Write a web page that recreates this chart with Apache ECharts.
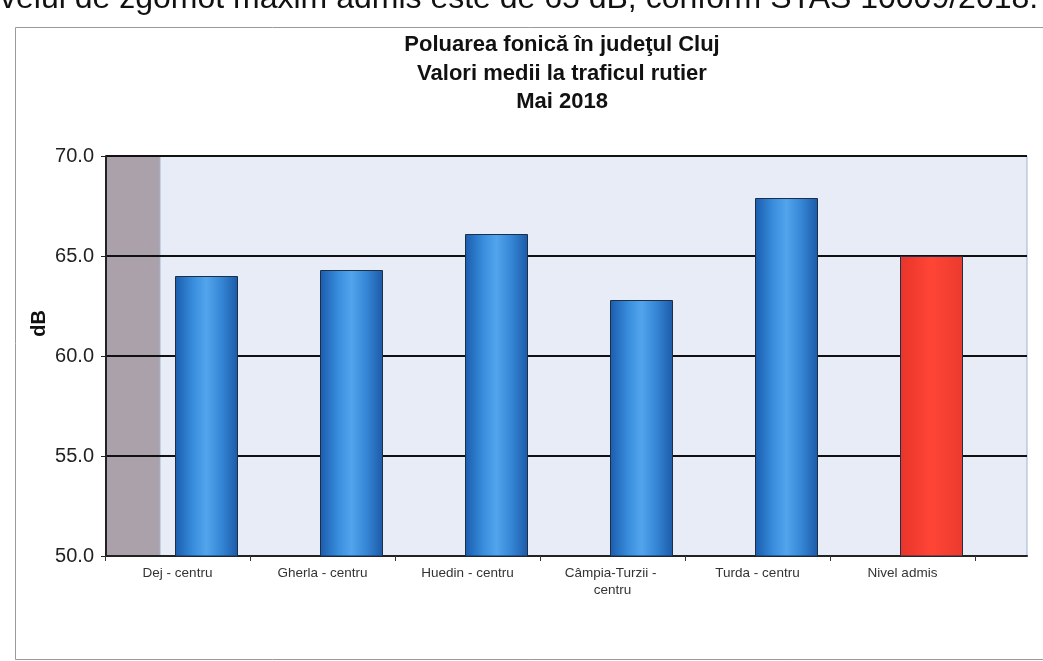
<!DOCTYPE html>
<html>
<head>
<meta charset="utf-8">
<script src="https://cdn.jsdelivr.net/npm/echarts@6/dist/echarts.min.js"></script>
<style>
html,body{margin:0;padding:0;background:#fff;}
#chart{width:1043px;height:661px;}
</style>
</head>
<body>
<div id="chart"></div>
<script>
const categories = ['Dej - centru', 'Gherla - centru', 'Huedin - centru', 'Câmpia-Turzii - centru', 'Turda - centru', 'Nivel admis'];
const values = [64.0, 64.3, 66.1, 62.8, 67.9, 65.0];
const limitCategory = 'Nivel admis';
const yMin = 50, yMax = 70, yStep = 5;
const titleLines = ['Poluarea fonică în judeţul Cluj', 'Valori medii la traficul rutier', 'Mai 2018'];
const headerText = 'velul de zgomot maxim admis este de 65 dB, conform STAS 10009/2018.';

const blueGrad = new echarts.graphic.LinearGradient(0, 0, 1, 0, [
  {offset: 0, color: '#1a5cae'}, {offset: 0.3, color: '#3a8fde'},
  {offset: 0.5, color: '#52a4ec'}, {offset: 0.72, color: '#3789d8'},
  {offset: 1, color: '#1b5aa8'}]);
const redGrad = new echarts.graphic.LinearGradient(0, 0, 1, 0, [
  {offset: 0, color: '#e8342a'}, {offset: 0.5, color: '#ff4536'}, {offset: 1, color: '#ea3a2e'}]);

const barData = values.map((v, i) => ({
  value: v,
  itemStyle: {color: categories[i] === limitCategory ? redGrad : blueGrad}
}));

const T = 156, B = 105;
const chart = echarts.init(document.getElementById('chart'), null, {renderer: 'canvas'});
const hiddenY = (g) => ({type: 'value', gridIndex: g, min: yMin, max: yMax, interval: yStep, show: false});
const hiddenX = (g) => ({type: 'category', gridIndex: g, data: categories, show: false});

chart.setOption({
  animation: false,
  backgroundColor: '#ffffff',
  title: {
    text: titleLines.join('\n'),
    left: 557, top: 26, textAlign: 'center',
    textStyle: {fontFamily: '"Liberation Sans Narrow", "Arial Narrow", "Liberation Sans", Arial', fontSize: 22, fontWeight: 'bold', color: '#111', lineHeight: 28.5}
  },
  graphic: [
    {type: 'rect', left: 13, top: 25, shape: {width: 1040, height: 632}, style: {fill: 'none', stroke: '#9a9a9a', lineWidth: 1}, silent: true, z: -10},
    {type: 'text', left: 0, top: -17, style: {text: headerText, font: '32px "Liberation Sans", Arial', fill: '#111'}, silent: true},
    {type: 'text', left: 29, top: 310, rotation: Math.PI / 2, style: {text: 'dB', font: 'bold 20px "Liberation Sans", Arial', fill: '#111', textAlign: 'center', textVerticalAlign: 'middle'}, silent: true}
  ],
  grid: [
    {left: 106, right: 16, top: T, bottom: B, show: true, backgroundColor: '#aaa1aa', borderWidth: 0},
    {left: 160, right: 16, top: T, bottom: B, show: true, backgroundColor: '#e8ecf6', borderColor: '#a3b3cf', borderWidth: 1},
    {left: 105, right: 68, top: T, bottom: B},
    {left: 134, right: 39, top: T, bottom: B}
  ],
  xAxis: [
    {type: 'category', gridIndex: 0, data: categories, axisLine: {show: true, lineStyle: {color: '#222', width: 2}}, axisTick: {show: false}, axisLabel: {show: false}, splitLine: {show: false}},
    hiddenX(1),
    {type: 'category', gridIndex: 2, data: categories, axisLine: {show: false},
     axisTick: {show: true, length: 5, lineStyle: {color: '#333', width: 1}},
     axisLabel: {show: true, interval: 0, margin: 9, color: '#333', fontSize: 13.5, lineHeight: 17, width: 110, overflow: 'break', fontFamily: '"Liberation Sans Narrow", "Arial Narrow", "Liberation Sans", Arial'}},
    hiddenX(3)
  ],
  yAxis: [
    {type: 'value', gridIndex: 0, min: yMin, max: yMax, interval: yStep,
     axisLine: {show: true, lineStyle: {color: '#222', width: 2}},
     axisTick: {show: true, length: 5, lineStyle: {color: '#222'}},
     axisLabel: {color: '#222', fontSize: 20, margin: 12, fontFamily: '"Liberation Sans", Arial', formatter: v => v.toFixed(1)},
     splitLine: {show: true, lineStyle: {color: '#111', width: 2}}},
    hiddenY(1), hiddenY(2), hiddenY(3)
  ],
  series: [{
    type: 'bar', xAxisIndex: 3, yAxisIndex: 3, data: barData, barWidth: 63,
    itemStyle: {borderColor: '#1e2f45', borderWidth: 1}
  }]
});
</script>
</body>
</html>
